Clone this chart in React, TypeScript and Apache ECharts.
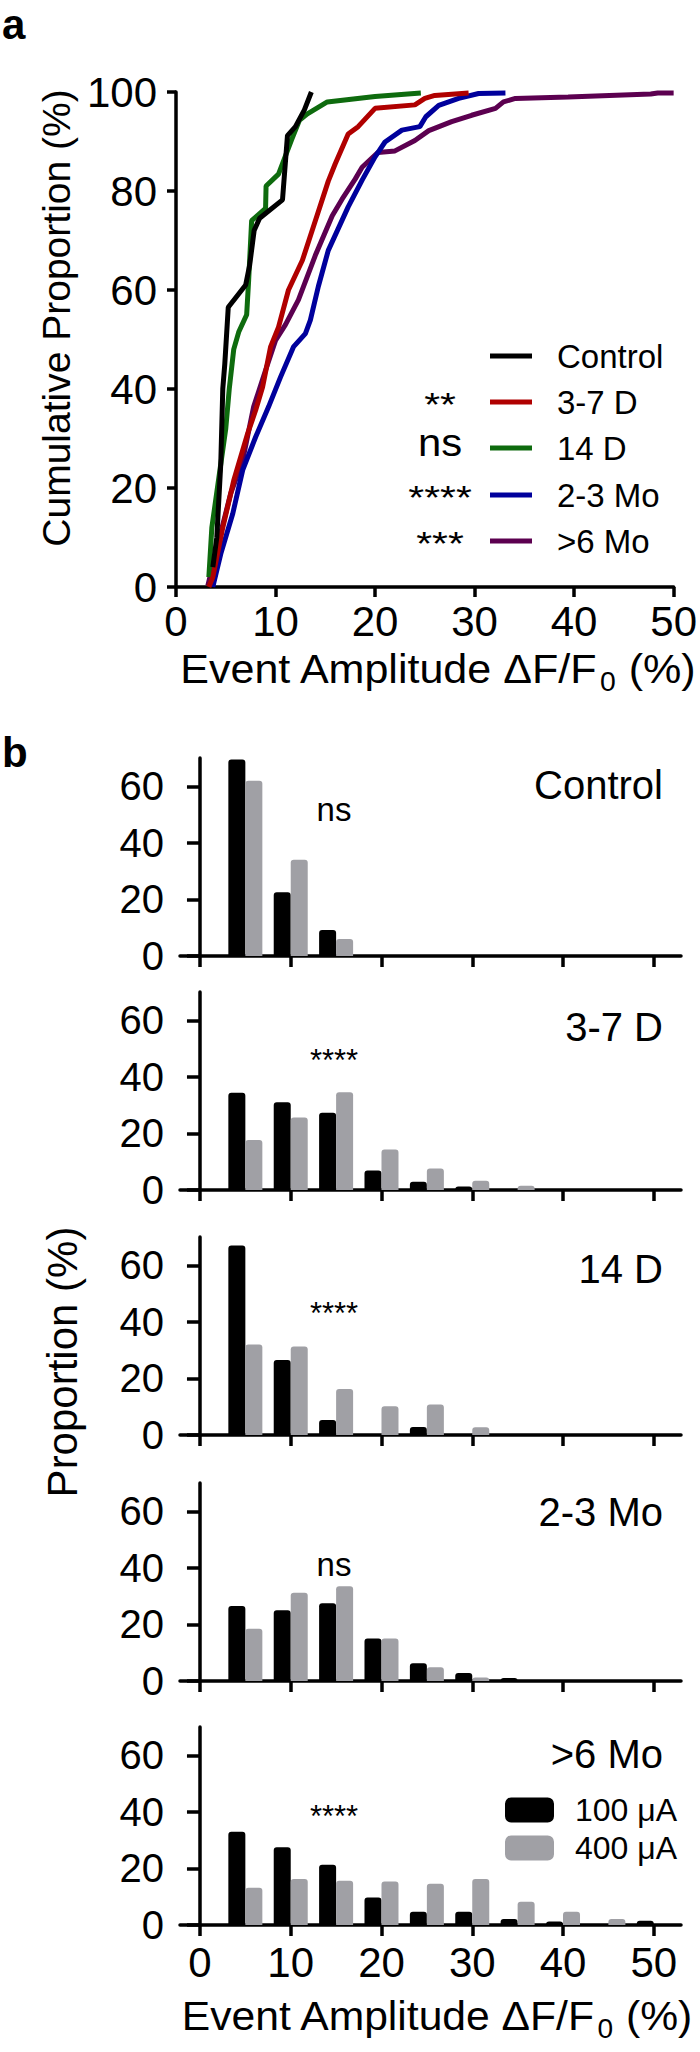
import React, { useEffect, useRef } from "react";
import * as echarts from "echarts";

// ---------- Panel a : cumulative distributions (x = amplitude %, y = cumulative %) ----------
const cdfNames = ["Control", "3-7 D", "14 D", "2-3 Mo", ">6 Mo"];
const cdfColors = ["#000000", "#b00000", "#0e6b0e", "#00009c", "#5c0050"];
const cdfSignif = ["", "**", "ns", "****", "***"];

const controlCdf = [
  [3.7, 4], [4.1, 10], [4.5, 25], [4.7, 40], [4.9, 45], [5.25, 56.5], [7.0, 61], [7.4, 65],
  [7.85, 72], [8.4, 74.5], [10.7, 78.2], [11.2, 91.2], [12.0, 93], [12.9, 96.4], [13.6, 100],
];
const d37Cdf = [
  [3.3, 0], [3.7, 2], [4.7, 12], [5.8, 21.5], [7.2, 31], [8.0, 35.7], [8.7, 40.4], [9.5, 48.5],
  [10.3, 52.5], [11.3, 60], [12.7, 66], [14.0, 74], [15.3, 82], [16.0, 85.5], [17.3, 91.5],
  [18.3, 93], [20.0, 96.7], [24.0, 97.4], [25.0, 98.7], [26.0, 99.3], [29.4, 99.8],
];
const d14Cdf = [
  [3.3, 2], [3.6, 12], [4.3, 22], [5.0, 32], [5.35, 40], [5.8, 48], [6.3, 51.5], [7.1, 55],
  [7.3, 62], [7.6, 74], [8.6, 75.8], [9.0, 76.5], [9.05, 81], [10.3, 83.4], [11.6, 90.3],
  [12.4, 94.3], [13.2, 95.6], [15.2, 98], [20, 99.1], [24.6, 99.8],
];
const mo23Cdf = [
  [3.7, 0], [4.5, 6.7], [5.7, 14.8], [6.7, 23.6], [8.0, 30.3], [9.3, 36.4], [10.5, 42.4],
  [11.8, 48.5], [13.0, 51.2], [13.5, 53.9], [14.3, 60.7], [15.3, 68], [17.3, 76.8], [18.7, 82.2],
  [20.0, 86.9], [21.0, 89.9], [22.7, 92.3], [24.5, 93], [25.1, 95], [26.4, 97.3], [28.4, 98.7],
  [30.4, 99.7], [33.1, 99.8],
];
const mo6Cdf = [
  [3.2, 0.3], [4.3, 9.4], [5.5, 18.9], [6.7, 25.6], [7.8, 36.4], [9.0, 43.8], [10.0, 49.8],
  [11.0, 53], [12.3, 58], [14.0, 67], [15.7, 75], [16.7, 78.4], [18.0, 82.4], [18.7, 84.8],
  [20.3, 87.8], [22.0, 88.1], [24.0, 90.2], [25.4, 92.2], [27.7, 94], [29.7, 95.3], [32.1, 96.7],
  [32.9, 98], [34.1, 98.7], [39.4, 99], [47.7, 99.6], [48.4, 99.8], [50, 99.8],
];
const cdfData = [controlCdf, d37Cdf, d14Cdf, mo23Cdf, mo6Cdf];

// ---------- Panel b : histograms (bin centre = amplitude %, value = proportion %) ----------
const bins = [5, 10, 15, 20, 25, 30, 35, 40, 45, 50];
const histNames = ["Control", "3-7 D", "14 D", "2-3 Mo", ">6 Mo"];
const histSignif = ["ns", "****", "****", "ns", "****"];
const doseNames = ["100 μA", "400 μA"];
const doseColors = ["#000000", "#a0a0a5"];

const control100 = [69.5, 22.5, 9.2, 0, 0, 0, 0, 0, 0, 0];
const control400 = [62, 34, 6, 0, 0, 0, 0, 0, 0, 0];
const d37_100 = [34.4, 31, 27.3, 6.9, 2.9, 1.2, 0, 0, 0, 0];
const d37_400 = [17.7, 25.6, 34.6, 14.3, 7.6, 3.3, 1.5, 0, 0, 0];
const d14_100 = [67, 26.5, 5.3, 0, 2.8, 0, 0, 0, 0, 0];
const d14_400 = [32, 31.3, 16.3, 10.2, 10.8, 2.7, 0, 0, 0, 0];
const mo23_100 = [26.5, 25, 27.5, 15, 6.3, 2.8, 1.1, 0, 0, 0];
const mo23_400 = [18.5, 31.2, 33.5, 15, 4.9, 1.2, 0, 0, 0, 0];
const mo6_100 = [33, 27.5, 21.3, 9.7, 4.7, 4.7, 2.1, 1.2, 0, 1.5];
const mo6_400 = [13.2, 16.3, 15.6, 15.4, 14.6, 16.3, 8.2, 4.7, 2.1, 0];
const hist100 = [control100, d37_100, d14_100, mo23_100, mo6_100];
const hist400 = [control400, d37_400, d14_400, mo23_400, mo6_400];

const xTicks = [0, 10, 20, 30, 40, 50];
const yTicksB = [0, 20, 40, 60];

const FONT = "'Liberation Sans', Arial, Helvetica, sans-serif";

let measureCtx: CanvasRenderingContext2D | null = null;
function textWidth(text: string, size: number) {
  if (!measureCtx) measureCtx = document.createElement("canvas").getContext("2d");
  if (!measureCtx) return text.length * size * 0.55;
  measureCtx.font = `${size}px 'Liberation Sans', Arial, sans-serif`;
  return measureCtx.measureText(text).width;
}

export default function App() {
  const ref = useRef<HTMLDivElement>(null);

  useEffect(() => {
    document.body.style.margin = "0";
    const chart = echarts.init(ref.current!, null, { renderer: "svg" });

    const axisLine = { show: true, lineStyle: { color: "#000", width: 3.5 } };

    const gA = { left: 176, top: 92, width: 500, height: 495 };
    const bBase = [956, 1190, 1435, 1681, 1925];
    const bH = 198;

    const grids: any[] = [gA];
    bBase.forEach((b) => grids.push({ left: 180, top: b - bH, width: 501, height: bH }));

    const xAxes: any[] = [
      {
        gridIndex: 0, type: "value", min: 0, max: 50, interval: 10,
        axisLine, splitLine: { show: false },
        axisTick: { show: true, length: 10, lineStyle: { width: 3.5, color: "#000" } },
        axisLabel: { color: "#000", fontSize: 42, fontFamily: FONT, margin: 13 },
      },
    ];
    const yAxes: any[] = [
      {
        gridIndex: 0, type: "value", min: 0, max: 100, interval: 20,
        axisLine, splitLine: { show: false },
        axisTick: { show: true, length: 9, lineStyle: { width: 3.5, color: "#000" } },
        axisLabel: { color: "#000", fontSize: 42, fontFamily: FONT, margin: 19 },
      },
    ];
    for (let i = 0; i < 5; i++) {
      xAxes.push({
        gridIndex: i + 1, type: "value", min: -2.2, max: 53,
        axisLine, splitLine: { show: false },
        axisTick: { show: true, length: 11, customValues: xTicks, lineStyle: { width: 3.5, color: "#000" } },
        axisLabel: {
          show: i === 4, customValues: xTicks, color: "#000", fontSize: 42, fontFamily: FONT, margin: 16,
        },
      });
      yAxes.push({
        gridIndex: i + 1, type: "value", min: 0, max: 70,
        axisLine, splitLine: { show: false },
        axisTick: { show: true, length: 13, customValues: yTicksB, lineStyle: { width: 3.5, color: "#000" } },
        axisLabel: { customValues: yTicksB, color: "#000", fontSize: 40, fontFamily: FONT, margin: 16 },
      });
    }

    const series: any[] = cdfData.map((d, i) => ({
      type: "line", name: cdfNames[i], xAxisIndex: 0, yAxisIndex: 0, data: d,
      showSymbol: false, symbol: "none", z: 10 - i,
      lineStyle: { color: cdfColors[i], width: 5 }, itemStyle: { color: cdfColors[i] },
    }));
    for (let i = 0; i < 5; i++) {
      [hist100[i], hist400[i]].forEach((vals, k) => {
        series.push({
          type: "bar", name: doseNames[k], xAxisIndex: i + 1, yAxisIndex: i + 1,
          data: bins.map((b, j) => [b, vals[j]]),
          barWidth: 17, barGap: "0%",
          itemStyle: { color: doseColors[k], borderRadius: [3, 3, 0, 0] },
        });
      });
    }

    const rowsA = [351, 397, 443, 490, 536];
    const legends: any[] = cdfNames.map((n, i) => ({
      data: [n], left: 485, top: rowsA[i] - 18, icon: "rect", itemWidth: 42, itemHeight: 5,
      selectedMode: false,
      textStyle: { fontSize: 33, lineHeight: 36, fontFamily: FONT, color: "#000", padding: [0, 0, 0, 20] },
    }));
    legends.push({
      data: doseNames, left: 500, top: 1789, orient: "vertical", icon: "roundRect",
      itemWidth: 49, itemHeight: 25, itemGap: 6, selectedMode: false,
      textStyle: { fontSize: 32, lineHeight: 32, fontFamily: FONT, color: "#000", padding: [0, 0, 0, 16] },
    });

    const txt = (text: string, x: number, y: number, fontSize: number, align = "center", extra: any = {}) => {
      const { style, ...rest } = extra;
      return {
        type: "text", x, y, ...rest,
        style: { text, fontSize, fontFamily: FONT, fill: "#000", align, verticalAlign: "middle", ...(style || {}) },
      };
    };

    // axis title "Event Amplitude ΔF/F0 (%)" with subscript, centred on cx
    const subTitle = (cx: number, cy: number, size: number, sx: number) => {
      const p1 = "Event Amplitude ΔF/F";
      const p3 = " (%)";
      const subSize = Math.round(size * 0.66);
      const w1 = textWidth(p1, size) * sx;
      const w2 = textWidth("0", subSize) * sx;
      const w3 = textWidth(p3, size) * sx;
      const x0 = cx - (w1 + w2 + w3 + 2) / 2;
      return [
        txt(p1, x0, cy, size, "left", { scaleX: sx }),
        txt("0", x0 + w1 + 1, cy + size * 0.3, subSize, "left", { scaleX: sx }),
        txt(p3, x0 + w1 + w2 + 2, cy, size, "left", { scaleX: sx }),
      ];
    };

    const graphic: any[] = [
      txt("a", 2, 24, 42, "left", { style: { fontWeight: "bold" } }),
      txt("b", 2, 752, 42, "left", { style: { fontWeight: "bold" } }),
      txt("Cumulative Proportion (%)", 56, 318, 39, "center", { rotation: Math.PI / 2 }),
      ...subTitle(438, 669, 41, 1.05),
      txt("Proportion (%)", 62, 1362, 42, "center", { rotation: Math.PI / 2 }),
      ...subTitle(437, 2016, 41, 1.04),
    ];

    // significance marks beside the legend of panel a
    cdfSignif.forEach((s, i) => {
      if (!s) return;
      const isNs = s === "ns";
      graphic.push(
        txt(s, 440, isNs ? rowsA[i] : rowsA[i] + 7, isNs ? 38 : 34, "center", { scaleX: isNs ? 1.1 : 1.2 })
      );
    });
    // panel b group names and significance marks
    const labY = [785, 1027, 1269, 1512, 1754];
    const sigY = [811, 1053, 1306, 1566, 1809];
    histNames.forEach((n, i) => {
      graphic.push(txt(n, 663, labY[i], 40, "right"));
      const isNs = histSignif[i] === "ns";
      graphic.push(txt(histSignif[i], 334, sigY[i] + (isNs ? -2 : 7), isNs ? 33 : 31, "center"));
    });

    chart.setOption({
      animation: false,
      backgroundColor: "#ffffff",
      grid: grids,
      xAxis: xAxes,
      yAxis: yAxes,
      series,
      legend: legends,
      graphic,
    });
    return () => chart.dispose();
  }, []);

  return (
    <div
      ref={ref}
      style={{ position: "absolute", left: 0, top: 0, width: 700, height: 2052, background: "#fff" }}
    />
  );
}
